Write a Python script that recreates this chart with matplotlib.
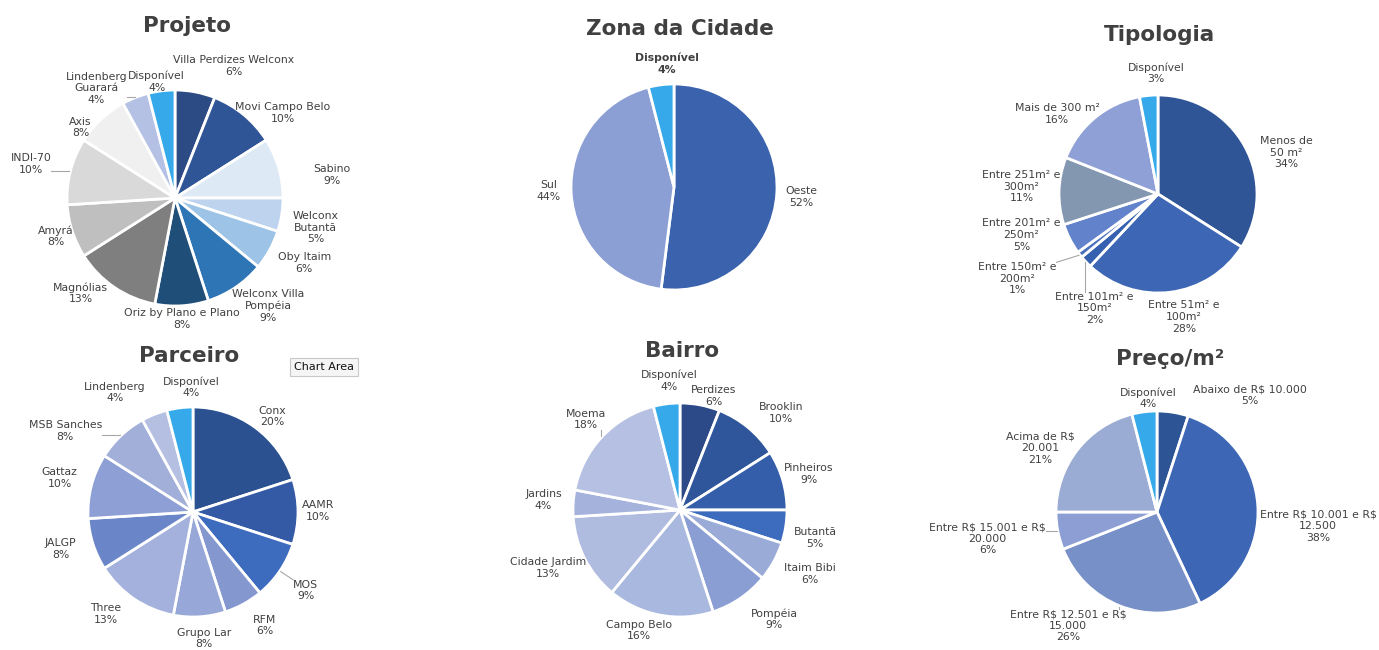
import matplotlib
matplotlib.use('Agg')
import matplotlib.pyplot as plt
import numpy as np

# ---- data ----
projeto_labels = ['Villa Perdizes Welconx', 'Movi Campo Belo', 'Sabino', 'Welconx\nButantã',
                  'Oby Itaim', 'Welconx Villa\nPompéia', 'Oriz by Plano e Plano', 'Magnólias',
                  'Amyrá', 'INDI-70', 'Axis', 'Lindenberg\nGuarará', 'Disponível']
projeto_vals = [6, 10, 9, 5, 6, 9, 8, 13, 8, 10, 8, 4, 4]

zona_labels = ['Oeste', 'Sul', 'Disponível']
zona_vals = [52, 44, 4]

tipo_labels = ['Menos de\n50 m²', 'Entre 51m² e\n100m²', 'Entre 101m² e\n150m²',
               'Entre 150m² e\n200m²', 'Entre 201m² e\n250m²', 'Entre 251m² e\n300m²',
               'Mais de 300 m²', 'Disponível']
tipo_vals = [34, 28, 2, 1, 5, 11, 16, 3]

parc_labels = ['Conx', 'AAMR', 'MOS', 'RFM', 'Grupo Lar', 'Three', 'JALGP', 'Gattaz',
               'MSB Sanches', 'Lindenberg', 'Disponível']
parc_vals = [20, 10, 9, 6, 8, 13, 8, 10, 8, 4, 4]

bairro_labels = ['Perdizes', 'Brooklin', 'Pinheiros', 'Butantã', 'Itaim Bibi', 'Pompéia',
                 'Campo Belo', 'Cidade Jardim', 'Jardins', 'Moema', 'Disponível']
bairro_vals = [6, 10, 9, 5, 6, 9, 16, 13, 4, 18, 4]

preco_labels = ['Abaixo de R\\$ 10.000', 'Entre R\\$ 10.001 e R\\$\n12.500',
                'Entre R\\$ 12.501 e R\\$\n15.000', 'Entre R\\$ 15.001 e R\\$\n20.000',
                'Acima de R\\$\n20.001', 'Disponível']
preco_vals = [5, 38, 26, 6, 21, 4]

# ---- styles ----
projeto_colors = ['#2c4a84', '#2f5597', '#dde9f5', '#bdd3ee', '#9dc3e6', '#2e75b6', '#1f4e79',
                  '#7f7f7f', '#bfbfbf', '#d9d9d9', '#f0f0f0', '#b4c0e4', '#35a9ea']
zona_colors = ['#3a62ad', '#8c9fd4', '#35a9ea']
tipo_colors = ['#2f5597', '#3d66b5', '#3561b0', '#4a70c0', '#6282cc', '#8497b0', '#8ea0d6', '#35a9ea']
parc_colors = ['#2c5190', '#3459a5', '#3d6bbd', '#8597cf', '#97a8d8', '#a3b1dc', '#6a86c8',
               '#8d9fd5', '#a1afd9', '#b5bfe2', '#35a9ea']
bairro_colors = ['#2c4a88', '#2f559a', '#345ea9', '#3d6bbd', '#9aabd7', '#8a9ed4', '#a9b8de',
                 '#b0bbe0', '#a4b2dc', '#b5c0e2', '#35a9ea']
preco_colors = ['#2d5596', '#3d66b5', '#7890c8', '#8c9ed4', '#9aabd4', '#35a9ea']

# label placement: (clockwise angle from 12 o'clock, distance in radii)
projeto_pos = [(24, 1.34), (51.8, 1.27), (81.7, 1.47), (102, 1.33), (116.7, 1.34), (139.3, 1.32),
               (176.7, 1.12), (224.7, 1.24), (252.3, 1.16), (283.3, 1.37), (306.7, 1.09),
               (324.3, 1.25), (351, 1.09)]
zona_pos = [(94.5, 1.24), (268.2, 1.22), (356.7, 1.2)]
tipo_pos = [(72.2, 1.36), (168, 1.27), (209, 1.32), (238.9, 1.66), (253.3, 1.44), (273, 1.38),
            (308.4, 1.30), (359, 1.22)]
parc_pos = [(39.7, 1.18), (89.5, 1.19), (124.9, 1.31), (147.7, 1.28), (175, 1.21), (220.5, 1.28),
            (254.3, 1.31), (284.3, 1.31), (302.3, 1.44), (326.8, 1.36), (359, 1.19)]
bairro_pos = [(16.6, 1.11), (46.2, 1.31), (74.4, 1.25), (101.7, 1.29), (116.2, 1.35), (139.2, 1.35),
              (198.7, 1.19), (246.3, 1.35), (274.2, 1.28), (313.8, 1.22), (355.1, 1.21)]
preco_pos = [(38.5, 1.48), (95.1, 1.60), (218, 1.43), (261, 1.70), (298.7, 1.32), (355.5, 1.13)]

W, H = 1379, 650
fig = plt.figure(figsize=(W / 100, H / 100), dpi=100)
renderer = fig.canvas.get_renderer()
TXT = '#404040'


def draw_pie(cx, cy, r, vals, labels, colors, pos, title, tx, tbase, leaders=(), bold=()):
    span = 1.9
    ax = fig.add_axes([(cx - r * span) / W, 1 - (cy + r * span) / H, 2 * r * span / W, 2 * r * span / H])
    wedges, _ = ax.pie(vals, colors=colors, startangle=90, counterclock=False, radius=1,
                       wedgeprops=dict(edgecolor='white', linewidth=2))
    ax.set_xlim(-span, span)
    ax.set_ylim(-span, span)
    ax.axis('off')
    for i, (w, lab, v) in enumerate(zip(wedges, labels, vals)):
        cw, d = pos[i]
        a = np.deg2rad(90 - cw)
        lx, ly = d * np.cos(a), d * np.sin(a)
        t = ax.text(lx, ly, f'{lab}\n{v}%', ha='center', va='center', fontsize=7.8, color=TXT,
                    fontweight='bold' if i in bold else 'normal', clip_on=False)
        if i in leaders:
            bb = t.get_window_extent(renderer)
            hw, hh = bb.width / 2 / r, bb.height / 2 / r
            m = np.deg2rad((w.theta1 + w.theta2) / 2)
            ex, ey = 1.01 * np.cos(m), 1.01 * np.sin(m)
            px = np.clip(ex, lx - hw, lx + hw)
            py = np.clip(ey, ly - hh, ly + hh)
            ax.plot([ex, px], [ey, py], color='#a6a6a6', lw=0.8, clip_on=False)
    fig.text(tx / W, 1 - tbase / H, title, ha='center', va='baseline', fontsize=15.5,
             fontweight='bold', color='#404040')


draw_pie(175, 198, 108, projeto_vals, projeto_labels, projeto_colors, projeto_pos,
         'Projeto', 187, 32, leaders=(9, 11))
draw_pie(674, 187, 103, zona_vals, zona_labels, zona_colors, zona_pos,
         'Zona da Cidade', 680, 35, bold=(2,))
draw_pie(1158, 194, 99, tipo_vals, tipo_labels, tipo_colors, tipo_pos,
         'Tipologia', 1160, 41, leaders=(2, 3))
draw_pie(193, 512, 105, parc_vals, parc_labels, parc_colors, parc_pos,
         'Parceiro', 189, 362, leaders=(2, 8))
draw_pie(680, 510, 107, bairro_vals, bairro_labels, bairro_colors, bairro_pos,
         'Bairro', 682, 357, leaders=(9,))
draw_pie(1157, 512, 101, preco_vals, preco_labels, preco_colors, preco_pos,
         'Preço/m²', 1170, 365, leaders=(2, 3))

fig.text(324 / W, 1 - 367 / H, 'Chart Area', ha='center', va='center', fontsize=8, color='#111111',
         bbox=dict(boxstyle='square,pad=0.35', fc='#f5f5f5', ec='#c8c8c8', lw=0.8))

fig.savefig('out.png', dpi=100)
